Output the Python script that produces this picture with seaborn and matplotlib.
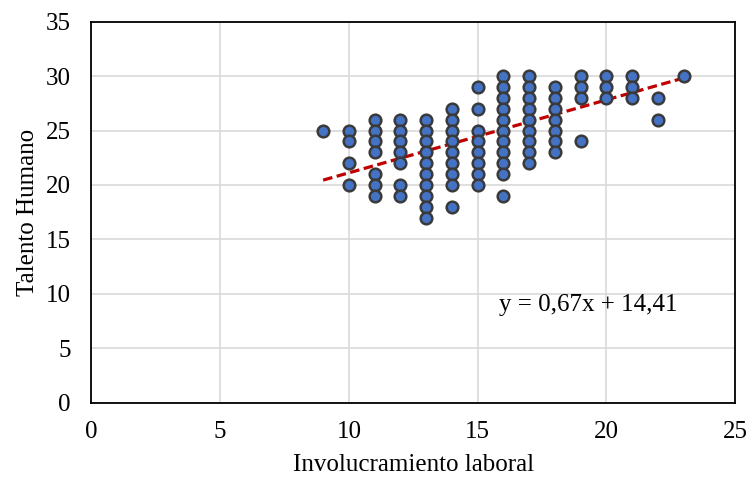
import numpy as np
import pandas as pd
import matplotlib
matplotlib.use("Agg")
import matplotlib.pyplot as plt
import seaborn as sns

# Observed (Involucramiento laboral, Talento Humano) pairs, grouped by x value
x_levels = [9, 10, 11, 12, 13, 14, 15, 16, 17, 18, 19, 20, 21, 22, 23]
y_by_x = [
    [25],
    [25, 24, 22, 20],
    [26, 25, 24, 23, 21, 20, 19],
    [26, 25, 24, 23, 22, 20, 19],
    [26, 25, 24, 23, 22, 21, 20, 19, 18, 17],
    [27, 26, 25, 24, 23, 22, 21, 20, 18],
    [29, 27, 25, 24, 23, 22, 21, 20],
    [30, 29, 28, 27, 26, 25, 24, 23, 22, 21, 19],
    [30, 29, 28, 27, 26, 25, 24, 23, 22],
    [29, 28, 27, 26, 25, 24, 23],
    [30, 29, 28, 24],
    [30, 29, 28],
    [30, 29, 28],
    [28, 26],
    [30],
]

# Linear trend line coefficients
slope = 0.67
intercept = 14.41

x_ticks = [0, 5, 10, 15, 20, 25]
y_ticks = [0, 5, 10, 15, 20, 25, 30, 35]

df = pd.DataFrame(
    [(x, y) for x, ys in zip(x_levels, y_by_x) for y in ys],
    columns=["Involucramiento laboral", "Talento Humano"],
)

sns.set_theme(style="white")
plt.rcParams["font.family"] = ["Liberation Serif", "DejaVu Serif"]

fig = plt.figure(figsize=(7.48, 4.79), dpi=100)
ax = fig.add_axes([0.1223, 0.1597, 0.8603, 0.795])

# Trend line over the observed x range
x_min, x_max = min(x_levels), max(x_levels)
trend = pd.DataFrame({"x": [x_min, x_max]})
trend["y"] = slope * trend["x"] + intercept
sns.lineplot(data=trend, x="x", y="y", ax=ax, color="#C00000",
             linewidth=2.3, linestyle=(0, (3.0, 1.4)), zorder=2)

sns.scatterplot(data=df, x="Involucramiento laboral", y="Talento Humano", ax=ax,
                s=70, color="#4472C4", edgecolor="#3A3A3A", linewidth=1.8,
                zorder=3)

ax.set_xlim(0, 25)
ax.set_ylim(0, 35)
ax.set_xticks(x_ticks)
ax.set_yticks(y_ticks)
ax.tick_params(axis="x", labelsize=18, length=0, pad=13, colors="#000000")
ax.tick_params(axis="y", labelsize=18, length=0, pad=15, colors="#000000")
ax.grid(True, color="#D9D9D9", linewidth=1.2)
ax.set_axisbelow(True)
for sp in ax.spines.values():
    sp.set_visible(True)
    sp.set_color("#000000")
    sp.set_linewidth(1.3)

ax.set_xlabel("Involucramiento laboral", fontsize=18, labelpad=8, color="#000000")
ax.set_ylabel("Talento Humano", fontsize=18, labelpad=5, color="#000000")

eq = f"y = {slope:.2f}x + {intercept:.2f}".replace(".", ",")
ax.text(15.85, 9.0, eq, fontsize=18, ha="left", va="center", color="#000000")

fig.savefig("out.png", dpi=100)
